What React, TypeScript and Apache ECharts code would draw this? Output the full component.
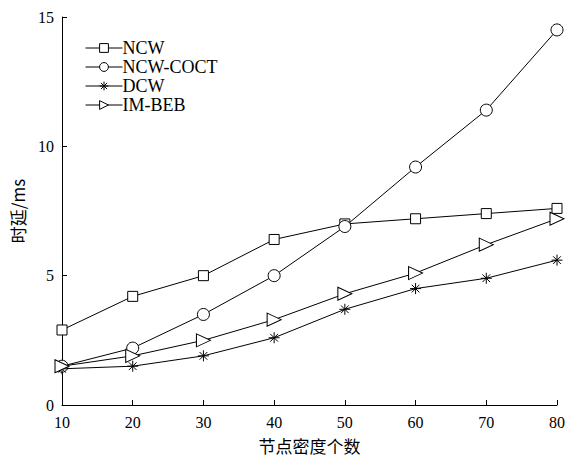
import React, { useEffect, useRef } from "react";
import * as echarts from "echarts";

const xValues = [10, 20, 30, 40, 50, 60, 70, 80];
const ncw = [2.9, 4.2, 5.0, 6.4, 7.0, 7.2, 7.4, 7.6];
const ncwCoct = [1.5, 2.2, 3.5, 5.0, 6.9, 9.2, 11.4, 14.5];
const dcw = [1.4, 1.5, 1.9, 2.6, 3.7, 4.5, 4.9, 5.6];
const imBeb = [1.5, 1.9, 2.5, 3.3, 4.3, 5.1, 6.2, 7.2];
const seriesNames = ["NCW", "NCW-COCT", "DCW", "IM-BEB"];

const asterisk = "path://M0,5L10,5M5,0L5,10M1.5,1.5L8.5,8.5M8.5,1.5L1.5,8.5";
const triangle = "path://M0,0L10,5L0,10Z";

const serif = "'Liberation Serif', 'Times New Roman', serif";
const cjk = "'Noto Sans CJK SC', sans-serif";

export default function App() {
  const ref = useRef<HTMLDivElement>(null);
  useEffect(() => {
    if (!ref.current) return;
    const chart = echarts.init(ref.current, undefined, { renderer: "svg" });
    const mk = (name: string, data: number[], symbol: string, size: number | number[]) => ({
      name,
      type: "line",
      data: xValues.map((x, i) => [x, data[i]]),
      symbol,
      symbolSize: size,
      showAllSymbol: true,
      lineStyle: { color: "#000", width: 1 },
      itemStyle: { color: "#fff", borderColor: "#000", borderWidth: 1 },
      emphasis: { disabled: true },
    });
    chart.setOption({
      animation: false,
      backgroundColor: "#fff",
      grid: { left: 62, right: 20, top: 17, bottom: 52 },
      legend: {
        orient: "vertical",
        left: 80,
        top: 34,
        itemWidth: 37,
        itemHeight: 11,
        itemGap: 1,
        data: seriesNames,
        lineStyle: { width: 1 },
        itemStyle: { borderWidth: 1 },
        textStyle: {
          fontFamily: serif,
          fontSize: 18,
          lineHeight: 18,
          color: "#000",
          padding: [0, 0, 0, -5],
        },
      },
      xAxis: {
        type: "value",
        min: 10,
        max: 80,
        interval: 10,
        name: "节点密度个数",
        nameLocation: "middle",
        nameGap: 32,
        nameTextStyle: { fontFamily: cjk, fontSize: 17, color: "#000" },
        axisLine: { lineStyle: { color: "#000", width: 1 } },
        axisTick: { inside: true, length: 5, lineStyle: { color: "#000" } },
        axisLabel: { fontFamily: serif, fontSize: 16, color: "#000", margin: 9 },
        splitLine: { show: false },
      },
      yAxis: {
        type: "value",
        min: 0,
        max: 15,
        interval: 5,
        name: "时延/ms",
        nameLocation: "middle",
        nameGap: 36,
        nameTextStyle: { fontFamily: cjk, fontSize: 17, color: "#000" },
        axisLine: { show: true, lineStyle: { color: "#000", width: 1 } },
        axisTick: { show: true, inside: true, length: 5, lineStyle: { color: "#000" } },
        axisLabel: { fontFamily: serif, fontSize: 16, color: "#000", margin: 8 },
        splitLine: { show: false },
      },
      series: [
        mk("NCW", ncw, "rect", 10),
        mk("NCW-COCT", ncwCoct, "circle", 12),
        mk("DCW", dcw, asterisk, 11),
        mk("IM-BEB", imBeb, triangle, [14, 13]),
      ],
    });
    return () => chart.dispose();
  }, []);
  return (
    <div
      ref={ref}
      style={{ position: "fixed", left: 0, top: 0, width: 577, height: 459, background: "#fff" }}
    />
  );
}
